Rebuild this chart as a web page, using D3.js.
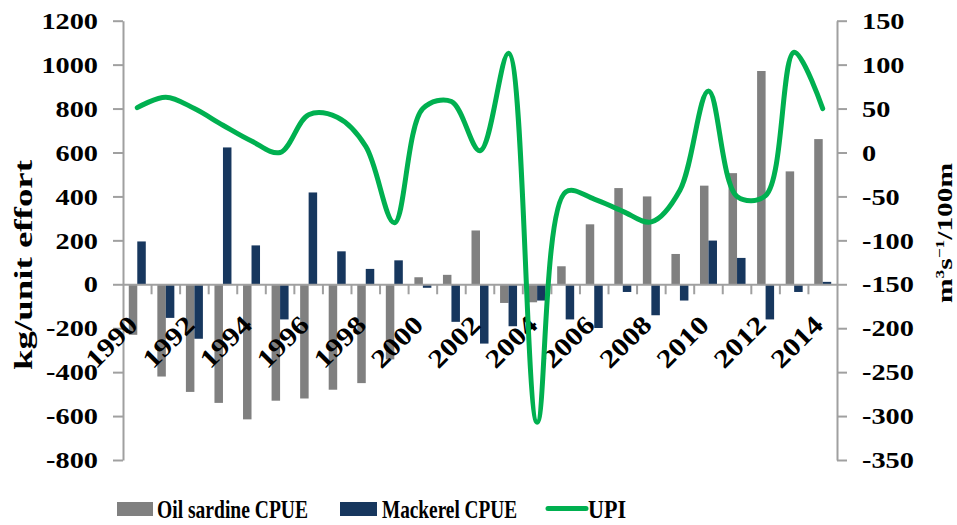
<!DOCTYPE html>
<html><head><meta charset="utf-8">
<script src="https://cdn.jsdelivr.net/npm/d3@7/dist/d3.min.js"></script>
<style>
body{margin:0;background:#fff}
text{font-family:"Liberation Serif","Times New Roman",serif;font-weight:bold;fill:#000}
</style>
</head><body>
<svg id="c" width="957" height="525"></svg>
<script>
const years = [1990,1991,1992,1993,1994,1995,1996,1997,1998,1999,2000,2001,2002,2003,2004,2005,2006,2007,2008,2009,2010,2011,2012,2013,2014];
const sardineCPUE = [-230,-420,-490,-540,-615,-530,-520,-480,-450,-342,32,43,245,-85,-82,82,273,438,400,138,449,506,971,514,661];
const mackerelCPUE = [195,-153,-248,623,177,-160,418,150,70,109,-16,-171,-270,-191,-74,-160,-199,-35,-141,-74,199,120,-160,-35,11];
const upi = [51,63,50,31,13,0,43,40,7,-80,50,58,2,113,-307,-45,-53,-67,-79,-43,70,-50,-49,114,50];
const leftTicks = [-800,-600,-400,-200,0,200,400,600,800,1000,1200];
const rightTicks = [-350,-300,-250,-200,-150,-100,-50,0,50,100,150];
const xTickLabels = [1990,1992,1994,1996,1998,2000,2002,2004,2006,2008,2010,2012,2014];
const seriesNames = ["Oil sardine CPUE","Mackerel CPUE","UPI"];

const colors = {sardine:"#808080", mackerel:"#17375E", upi:"#00B050", axis:"#A0A0A0"};
const L = 123, R = 837, T = 20.7, B = 460;
const STRETCH = 1.18;

const svg = d3.select("#c");
const x = d3.scaleBand().domain(years).range([L, R]).padding(0);
const x1 = d3.scaleBand().domain(["s","m"]).range([0, x.bandwidth()]).paddingInner(0).paddingOuter(0.68);
const yL = d3.scaleLinear().domain([-800,1200]).range([B, T]);
const yR = d3.scaleLinear().domain([-350,150]).range([B, T]);

function stretch(sel){
  sel.each(function(){ const w=this.getComputedTextLength(); this.setAttribute("textLength", w*STRETCH); this.setAttribute("lengthAdjust","spacingAndGlyphs"); });
}

// bars
const g = svg.append("g");
g.selectAll("rect.s").data(years).enter().append("rect")
  .attr("x", (d)=>x(d)+x1("s")).attr("width", x1.bandwidth())
  .attr("y", (d,i)=>yL(Math.max(0,sardineCPUE[i])))
  .attr("height", (d,i)=>Math.abs(yL(sardineCPUE[i])-yL(0)))
  .attr("fill", colors.sardine);
g.selectAll("rect.m").data(years).enter().append("rect")
  .attr("x", (d)=>x(d)+x1("m")).attr("width", x1.bandwidth())
  .attr("y", (d,i)=>yL(Math.max(0,mackerelCPUE[i])))
  .attr("height", (d,i)=>Math.abs(yL(mackerelCPUE[i])-yL(0)))
  .attr("fill", colors.mackerel);

// axes
const fmt = d => String(d);
const axL = svg.append("g").attr("transform",`translate(${L},0)`)
  .call(d3.axisLeft(yL).tickValues(leftTicks).tickFormat(fmt).tickSize(10).tickPadding(15).tickSizeOuter(0));
const axR = svg.append("g").attr("transform",`translate(${R},0)`)
  .call(d3.axisRight(yR).tickValues(rightTicks).tickFormat(fmt).tickSize(10).tickPadding(15).tickSizeOuter(0));
[axL, axR].forEach(a=>{
  a.select(".domain").attr("stroke", colors.axis).attr("stroke-width",2);
  a.selectAll(".tick line").attr("stroke", colors.axis).attr("stroke-width",2);
  a.selectAll(".tick text").style("font-size","24px").attr("fill","#000").call(stretch);
});

// x axis at zero
const y0 = yL(0);
const axX = svg.append("g").attr("transform",`translate(0,${y0})`)
  .call(d3.axisBottom(x).tickValues([]).tickSizeOuter(0));
axX.select(".domain").attr("stroke", colors.axis).attr("stroke-width",2);
axX.selectAll("line.bt").data(years.slice(1)).enter().append("line").attr("class","bt")
  .attr("x1", d=>x(d)).attr("x2", d=>x(d)).attr("y1",0).attr("y2",10)
  .attr("stroke", colors.axis).attr("stroke-width",2);
svg.append("g").selectAll("text").data(xTickLabels).enter().append("text")
  .attr("transform", d=>`translate(${x(d)+x.bandwidth()/2+2},${y0+42}) rotate(-45)`)
  .attr("text-anchor","end").style("font-size","26px").text(d=>d).call(stretch);

// UPI line
const line = d3.line().x((d,i)=>x(years[i])+x.bandwidth()/2).y(d=>yR(d)).curve(d3.curveCatmullRom.alpha(0.5));
svg.append("path").datum(upi).attr("d", line).attr("fill","none")
  .attr("stroke", colors.upi).attr("stroke-width",5).attr("stroke-linecap","round");

// axis titles
svg.append("text").attr("transform","translate(32,265) rotate(-90)").attr("text-anchor","middle")
  .style("font-size","26px").attr("textLength",210).attr("lengthAdjust","spacingAndGlyphs").text("kg/unit effort");
const rt = svg.append("text").attr("transform","translate(952,233) rotate(-90)").attr("text-anchor","middle")
  .style("font-size","22px").attr("textLength",140).attr("lengthAdjust","spacingAndGlyphs");
rt.append("tspan").text("m");
rt.append("tspan").attr("dy",-8).style("font-size","13px").text("3");
rt.append("tspan").attr("dy",8).text("s");
rt.append("tspan").attr("dy",-8).style("font-size","13px").text("\u22121");
rt.append("tspan").attr("dy",8).text("/100m");

// legend
const lg = svg.append("g");
lg.append("rect").attr("x",117).attr("y",502).attr("width",36).attr("height",14).attr("fill",colors.sardine);
lg.append("text").attr("x",157).attr("y",518).style("font-size","26px").attr("textLength",151).attr("lengthAdjust","spacingAndGlyphs").text(seriesNames[0]);
lg.append("rect").attr("x",340).attr("y",502).attr("width",37).attr("height",14).attr("fill",colors.mackerel);
lg.append("text").attr("x",382).attr("y",518).style("font-size","26px").attr("textLength",135).attr("lengthAdjust","spacingAndGlyphs").text(seriesNames[1]);
lg.append("line").attr("x1",548).attr("x2",586).attr("y1",508.5).attr("y2",508.5).attr("stroke",colors.upi).attr("stroke-width",5).attr("stroke-linecap","round");
lg.append("text").attr("x",588).attr("y",518).style("font-size","26px").attr("textLength",38).attr("lengthAdjust","spacingAndGlyphs").text(seriesNames[2]);
</script>
</body></html>
